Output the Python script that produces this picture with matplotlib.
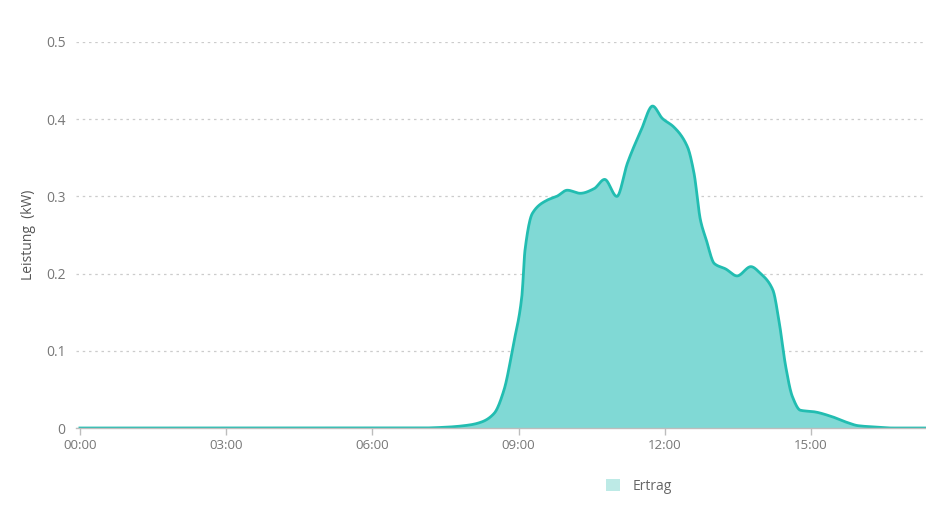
import numpy as np
import matplotlib
matplotlib.use("Agg")
import matplotlib.pyplot as plt
from matplotlib.patches import Patch

plt.rcParams['font.family'] = ['Open Sans', 'DejaVu Sans']

times = ["00:00", "07:00", "07:30", "08:00", "08:15", "08:30", "08:42", "08:54",
         "09:04", "09:08", "09:17", "09:35", "09:47", "10:00", "10:16", "10:33",
         "10:46", "11:01", "11:14", "11:31", "11:45", "11:57", "12:11", "12:28",
         "12:36", "12:44", "12:51", "13:01", "13:15", "13:29", "13:46", "13:58",
         "14:13", "14:21", "14:29", "14:37", "14:47", "15:04", "15:25", "15:45",
         "15:58", "16:24", "16:40", "17:21"]
power_kw = [0.0, 0.0, 0.001, 0.004, 0.008, 0.019, 0.049, 0.110,
            0.170, 0.231, 0.278, 0.295, 0.300, 0.308, 0.304, 0.310,
            0.322, 0.300, 0.343, 0.386, 0.417, 0.401, 0.390, 0.364,
            0.330, 0.269, 0.244, 0.213, 0.206, 0.197, 0.209, 0.200,
            0.179, 0.136, 0.079, 0.041, 0.023, 0.021, 0.015, 0.007,
            0.003, 0.001, 0.0, 0.0]
xtick_labels = ["00:00", "03:00", "06:00", "09:00", "12:00", "15:00"]
ytick_values = [0, 0.1, 0.2, 0.3, 0.4, 0.5]
ytick_labels = ["0", "0.1", "0.2", "0.3", "0.4", "0.5"]
series_name = "Ertrag"
y_title = "Leistung  (kW)"


def to_hours(s):
    h, m = s.split(":")
    return int(h) + int(m) / 60.0


x = np.array([to_hours(t) for t in times])
y = np.array(power_kw)


def pchip(xk, yk, xs):
    h = np.diff(xk)
    d = np.diff(yk) / h
    m = np.zeros_like(yk)
    for i in range(1, len(xk) - 1):
        if d[i - 1] * d[i] <= 0:
            m[i] = 0
        else:
            w1 = 2 * h[i] + h[i - 1]
            w2 = h[i] + 2 * h[i - 1]
            m[i] = (w1 + w2) / (w1 / d[i - 1] + w2 / d[i])
    m[0] = d[0]
    m[-1] = d[-1]
    idx = np.clip(np.searchsorted(xk, xs) - 1, 0, len(xk) - 2)
    t = (xs - xk[idx]) / h[idx]
    h00 = 2 * t**3 - 3 * t**2 + 1
    h10 = t**3 - 2 * t**2 + t
    h01 = -2 * t**3 + 3 * t**2
    h11 = t**3 - t**2
    return (h00 * yk[idx] + h10 * h[idx] * m[idx] + h01 * yk[idx + 1]
            + h11 * h[idx] * m[idx + 1])


xs = np.linspace(x[0], x[-1], 2000)
ys = np.clip(pchip(x, y, xs), 0, None)

fig = plt.figure(figsize=(9.26, 5.07), dpi=100)
ax = fig.add_axes([0.0821, 0.1558, 0.9179, 0.7614])

line_c = "#22BDB1"
fill_c = "#80D9D5"
ax.fill_between(xs, 0, ys, color=fill_c, lw=0, zorder=2)
ax.plot(xs, ys, color=line_c, lw=2.0, zorder=3, solid_joinstyle='round')

ax.set_xlim(-0.08, 17.36)
ax.set_ylim(0, 0.5)
ax.set_xticks([to_hours(t) for t in xtick_labels])
ax.set_xticklabels(xtick_labels)
ax.set_yticks(ytick_values)
ax.set_yticklabels(ytick_labels)

for s in ["top", "right", "left"]:
    ax.spines[s].set_visible(False)
ax.spines["bottom"].set_color("#bdbdbd")
ax.spines["bottom"].set_linewidth(1.0)
ax.spines["bottom"].set_zorder(4)

ax.tick_params(axis="x", colors="#bdbdbd", length=5, width=1, labelcolor="#777777",
               labelsize=9.5, pad=3)
ax.tick_params(axis="y", length=0, labelcolor="#777777", labelsize=10, pad=7.5)

ax.grid(axis="y", color="#cccccc", linestyle=(0, (2, 3)), linewidth=0.9, zorder=1)
ax.set_axisbelow(True)

ax.set_ylabel(y_title, color="#555555", fontsize=10, labelpad=7)

handle = Patch(facecolor="#BDEAE6", edgecolor="none")
fig.legend([handle], [series_name], loc="center", bbox_to_anchor=(0.690, 0.041),
           frameon=False, fontsize=10, labelcolor="#666666",
           handlelength=1.0, handleheight=1.0, handletextpad=0.9)

fig.savefig("out.png", dpi=100, facecolor="white")
